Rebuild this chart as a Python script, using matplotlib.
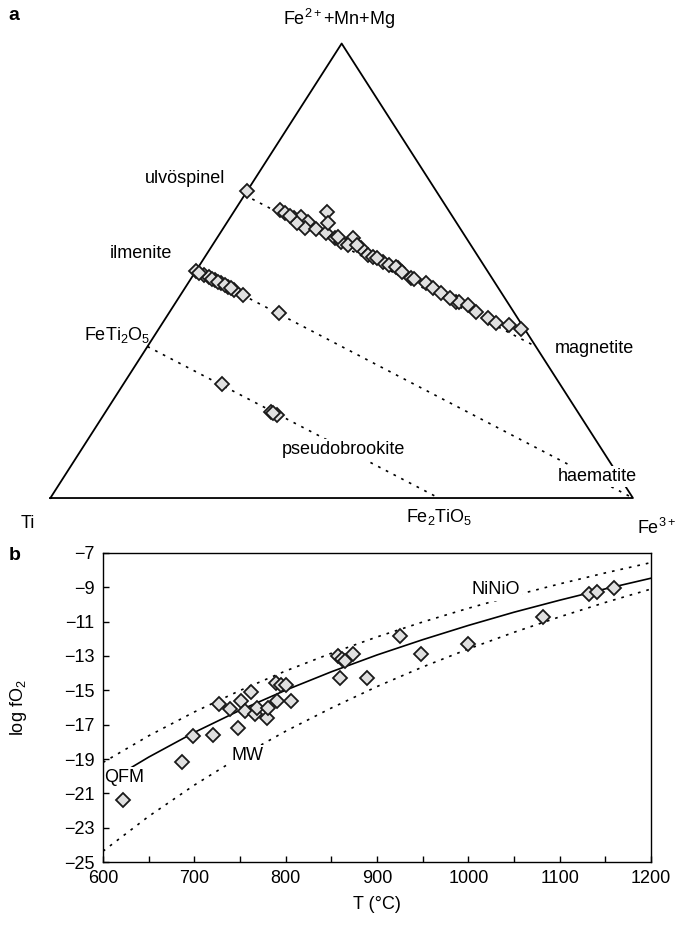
import matplotlib.pyplot as plt

plt.rcParams['font.family'] = ['Liberation Sans', 'DejaVu Sans']
plt.rcParams['mathtext.fontset'] = 'custom'
plt.rcParams['mathtext.rm'] = 'Liberation Sans'
plt.rcParams['mathtext.it'] = 'Liberation Sans:italic'
plt.rcParams['mathtext.bf'] = 'Liberation Sans:bold'
plt.rcParams['mathtext.default'] = 'regular'

# ---- panel a: cation fractions (Fe2+Mn+Mg, Fe3+); Ti is the remainder
usp_fe2 = [0.676, 0.634, 0.627, 0.616, 0.619, 0.608, 0.594, 0.591, 0.630, 0.583,
           0.572, 0.564, 0.572, 0.557, 0.550, 0.535, 0.531, 0.520, 0.513, 0.506,
           0.484, 0.473, 0.462, 0.605, 0.605, 0.509, 0.481, 0.452, 0.432, 0.432,
           0.425, 0.410, 0.396, 0.385, 0.381, 0.371, 0.575, 0.557, 0.528, 0.498,
           0.440, 0.621]
usp_fe3 = [0.000, 0.077, 0.089, 0.111, 0.121, 0.138, 0.140, 0.161, 0.160, 0.182,
           0.202, 0.217, 0.233, 0.232, 0.259, 0.277, 0.288, 0.311, 0.325, 0.344,
           0.377, 0.409, 0.425, 0.174, 0.120, 0.339, 0.384, 0.444, 0.480, 0.485,
           0.504, 0.525, 0.553, 0.572, 0.597, 0.622, 0.207, 0.248, 0.297, 0.355,
           0.466, 0.100]

ilm_fe2 = [0.500, 0.491, 0.486, 0.480, 0.473, 0.465, 0.458, 0.447, 0.496, 0.482,
           0.476, 0.468, 0.462, 0.407]
ilm_fe3 = [0.000, 0.019, 0.030, 0.042, 0.057, 0.072, 0.087, 0.107, 0.007, 0.036,
           0.049, 0.066, 0.079, 0.189]

psb_fe2 = [0.250, 0.190, 0.183, 0.187]
psb_fe3 = [0.170, 0.283, 0.298, 0.289]

# end-member joins (Fe2+, Fe3+)
joins = [((2/3, 0.0), (1/3, 2/3)),   # ulvospinel - magnetite
         ((1/2, 0.0), (0.0, 1.0)),   # ilmenite - haematite
         ((1/3, 0.0), (0.0, 2/3))]   # FeTi2O5 - Fe2TiO5

# ---- panel b: T vs log fO2
T_pts = [622, 687, 699, 720, 727, 739, 748, 751, 756, 762, 766, 769, 779, 781,
         789, 791, 795, 800, 806, 857, 859, 862, 865, 874, 889, 925, 948, 1000,
         1082, 1132, 1141, 1160]
fo2_pts = [-21.4, -19.15, -17.65, -17.6, -15.8, -16.1, -17.2, -15.6, -16.2, -15.1,
           -16.4, -16.05, -16.6, -16.05, -14.6, -15.6, -14.7, -14.7, -15.6, -13.0,
           -14.3, -13.2, -13.3, -12.9, -14.3, -11.85, -12.9, -12.3, -10.75, -9.39,
           -9.29, -9.03]

T_buf = [600, 650, 700, 750, 800, 850, 900, 950, 1000, 1050, 1100, 1150, 1200]
nno = [-19.20, -17.65, -16.26, -15.01, -13.87, -12.84, -11.89, -11.02, -10.22,
       -9.48, -8.80, -8.16, -7.56]
qfm = [-20.48, -18.89, -17.45, -16.16, -14.99, -13.92, -12.94, -12.05, -11.22,
       -10.45, -9.75, -9.09, -8.47]
mw = [-24.37, -22.34, -20.52, -18.87, -17.38, -16.03, -14.78, -13.64, -12.59,
      -11.62, -10.72, -9.88, -9.10]


def tern(fe2, fe3):
    # Ti at (0,0), Fe3+ at (1,0), Fe2+ apex at (0.5,1)
    return fe3 + fe2 / 2.0, fe2


dot = (0, (1.6, 3.6))
mk = dict(marker='D', ms=7.5, mfc='#e0e0e0', mec='#1a1a1a', mew=1.3, ls='none',
          zorder=3, clip_on=False)
fs = 13
wbox = dict(facecolor='white', edgecolor='none', pad=1.5)

fig = plt.figure(figsize=(6.9, 9.3), dpi=100)

ax1 = fig.add_axes([0.073, 0.4645, 0.8443, 0.4887])
ax1.set_xlim(0, 1)
ax1.set_ylim(0, 1)
ax1.axis('off')

ax1.plot([0, 1, 0.5, 0], [0, 0, 1, 0], color='black', lw=1.3, clip_on=False,
         zorder=2)
for p, q in joins:
    x0, y0 = tern(*p)
    x1, y1 = tern(*q)
    ax1.plot([x0, x1], [y0, y1], color='black', lw=1.2, ls=dot, zorder=1,
             clip_on=False)

for fe2, fe3 in [(usp_fe2, usp_fe3), (ilm_fe2, ilm_fe3), (psb_fe2, psb_fe3)]:
    xs, ys = zip(*[tern(a, c) for a, c in zip(fe2, fe3)])
    ax1.plot(xs, ys, **mk)

ax1.text(0.495, 1.053, 'Fe$^{2+}$+Mn+Mg', ha='center', va='center', fontsize=fs)
ax1.text(-0.038, -0.055, 'Ti', ha='center', va='center', fontsize=fs)
ax1.text(1.04, -0.066, 'Fe$^{3+}$', ha='center', va='center', fontsize=fs)
ax1.text(0.30, 0.704, 'ulvöspinel', ha='right', va='center', fontsize=fs)
ax1.text(0.209, 0.539, 'ilmenite', ha='right', va='center', fontsize=fs)
ax1.text(0.171, 0.359, 'FeTi$_2$O$_5$', ha='right', va='center', fontsize=fs)
ax1.text(0.866, 0.330, 'magnetite', ha='left', va='center', fontsize=fs)
ax1.text(0.398, 0.106, 'pseudobrookite', ha='left', va='center', fontsize=fs,
         bbox=wbox, zorder=4)
ax1.text(0.939, 0.048, 'haematite', ha='center', va='center', fontsize=fs,
         bbox=wbox, zorder=4)
ax1.text(0.667, -0.042, 'Fe$_2$TiO$_5$', ha='center', va='center', fontsize=fs)

ax2 = fig.add_axes([0.1493, 0.0731, 0.7942, 0.3323])
ax2.plot(T_buf, nno, color='black', lw=1.2, ls=dot, zorder=1)
ax2.plot(T_buf, mw, color='black', lw=1.2, ls=dot, zorder=1)
ax2.plot(T_buf, qfm, color='black', lw=1.2, zorder=1)
ax2.plot(T_pts, fo2_pts, **mk)

ax2.text(1030, -9.15, 'NiNiO', ha='center', va='center', fontsize=fs,
         bbox=wbox, zorder=2)
ax2.text(758, -18.8, 'MW', ha='center', va='center', fontsize=fs,
         bbox=wbox, zorder=2)
ax2.text(623, -20.1, 'QFM', ha='center', va='center', fontsize=fs,
         bbox=wbox, zorder=2)

ax2.set_xlim(600, 1200)
ax2.set_ylim(-25, -7)
ax2.set_xticks(range(600, 1201, 100))
ax2.set_xticks(range(650, 1200, 100), minor=True)
ax2.set_yticks(range(-25, -6, 2))
ax2.tick_params(which='both', direction='in', length=4, width=1,
                labelsize=fs, pad=6)
for s in ax2.spines.values():
    s.set_linewidth(1.0)
ax2.set_xlabel('T (°C)', fontsize=fs, labelpad=6)
ax2.set_ylabel('log fO$_2$', fontsize=fs)
ax2.yaxis.set_label_coords(-0.135, 0.5)

fig.text(0.012, 0.983, 'a', fontsize=14, fontweight='bold', va='center')
fig.text(0.012, 0.403, 'b', fontsize=14, fontweight='bold', va='center')

fig.savefig('out.png', dpi=100)
